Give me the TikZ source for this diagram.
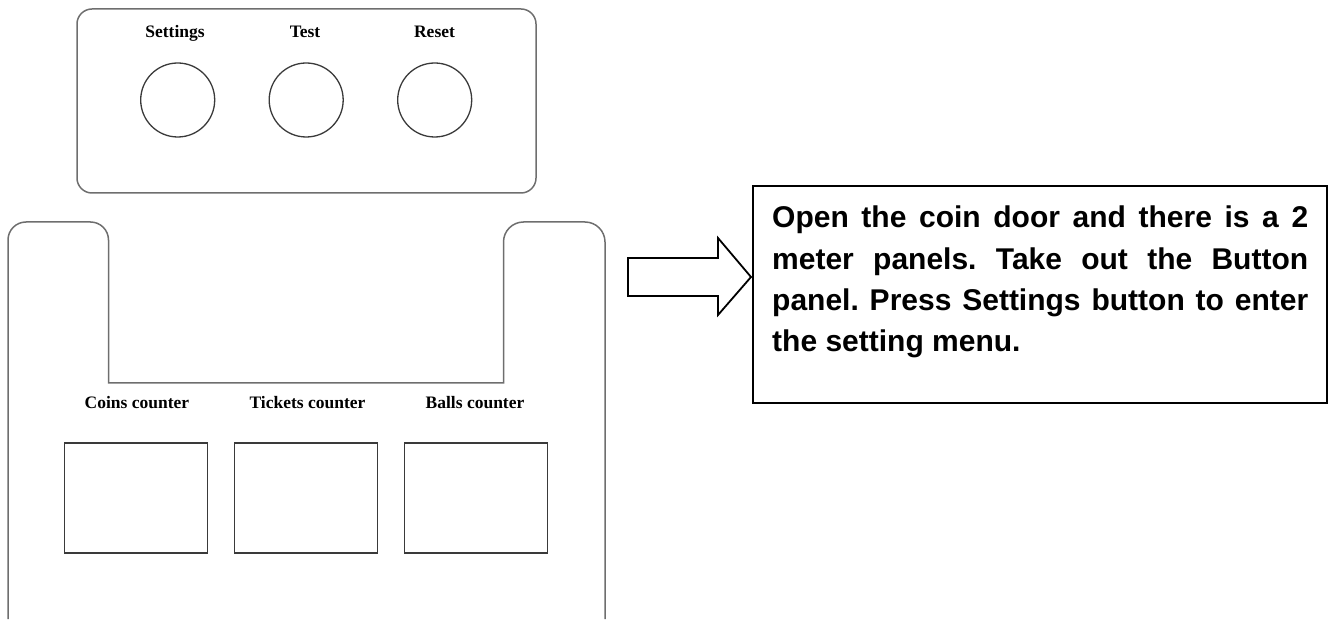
\documentclass[tikz,border=0pt]{standalone}
\usepackage{fontspec}
\setmainfont{Liberation Serif}
\newfontfamily\notefont{Liberation Sans}
\usetikzlibrary{positioning}

\definecolor{panelgray}{HTML}{6E6E6E}
\definecolor{partgray}{HTML}{3A3A3A}

\begin{document}
\begin{tikzpicture}[x=1pt, y=1pt,
    panel/.style={draw=panelgray, line width=1.5pt},
    button/.style={circle, draw=partgray, line width=1.3pt, minimum size=74pt, inner sep=0pt, outer sep=0pt},
    counter/.style={rectangle, draw=partgray, line width=1.3pt, minimum width=143pt, minimum height=110pt, inner sep=0pt, outer sep=0pt},
    caption/.style={anchor=base, inner sep=0pt, font=\fontsize{17.5}{20}\selectfont\bfseries},
    infobox/.style={rectangle, draw=black, line width=2.2pt, minimum width=574pt, minimum height=217pt, inner sep=0pt, outer sep=0pt},
    infotext/.style={inner sep=0pt, text width=536pt, align=justify, font=\notefont\fontsize{30}{41.3}\selectfont\bfseries},
    blockarrow/.style={draw=black, line width=1.8pt, line join=miter}
  ]
  \useasboundingbox (0,0) rectangle (1330,619);

  % button panel
  \draw[panel, rounded corners=15pt] (77,426) rectangle (536,610);
  \node[button] (settings) at (177.7,519) {};
  \node[button, right=54.5pt of settings] (test) {};
  \node[button, right=54.5pt of test] (reset) {};
  \node[caption] (settingslabel) at (175,581) {Settings};
  \node[caption] (testlabel) at (305,581) {Test};
  \node[caption] (resetlabel) at (434.5,581) {Reset};

  % meter panel, open at the bottom
  \draw[panel] (8,0) [rounded corners=18pt] -- (8,397) -- (108.5,397) -- (108.5,320)
    [sharp corners] -- (108.5,236) -- (503.5,236) -- (503.5,320)
    [rounded corners=20pt] -- (503.5,397) -- (605,397) -- (605,0);
  \node[caption] (coinslabel) at (137,211) {Coins counter};
  \node[caption] (ticketslabel) at (307.5,211) {Tickets counter};
  \node[caption] (ballslabel) at (475,211) {Balls counter};
  \node[counter] (coins) at (135.7,121) {};
  \node[counter, right=27pt of coins] (tickets) {};
  \node[counter, right=27pt of tickets] (balls) {};

  % hint
  \draw[blockarrow] (628,361) -- (718,361) -- (718,381) -- (751,342) -- (718,304) -- (718,323) -- (628,323) -- cycle;
  \node[infobox, anchor=north west] (info) at (753,433) {};
  \node[infotext, anchor=north west] (infotext) at ([shift={(19pt,-20pt)}]info.north west)
    {\frenchspacing\hyphenpenalty=10000 Open the coin door and there is a 2\linebreak
     meter panels. Take out the Button\linebreak
     panel. Press Settings button to enter\linebreak
     the setting menu.};
\end{tikzpicture}
\end{document}
